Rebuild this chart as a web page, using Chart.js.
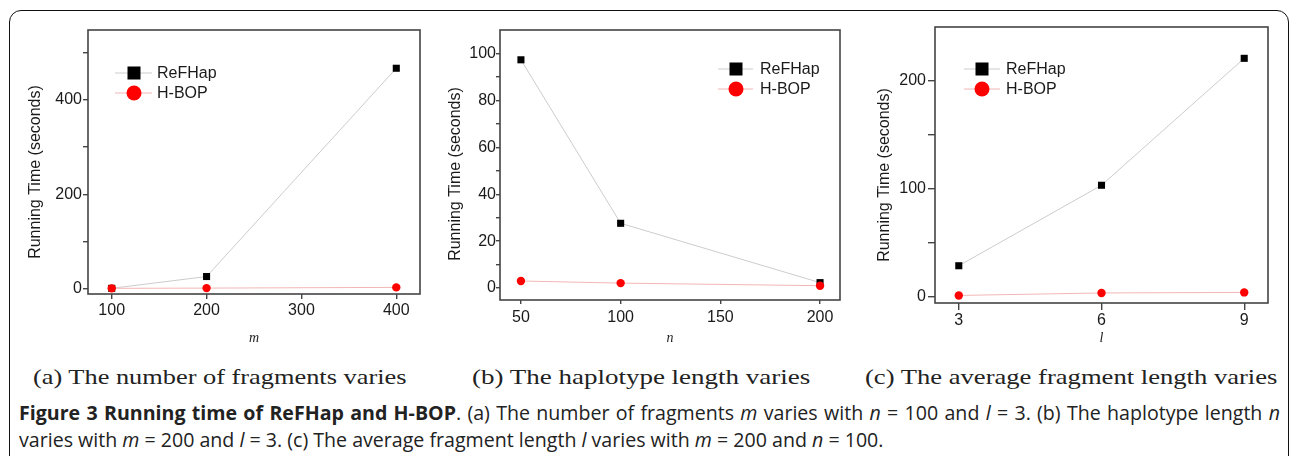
<!DOCTYPE html>
<html>
<head>
<meta charset="utf-8">
<script src="https://cdn.jsdelivr.net/npm/chart.js@4.4.1/dist/chart.umd.min.js"></script>
<style>
    body { margin: 0; width: 1290px; height: 456px; background: #fff; position: relative; overflow: hidden; }
    .frame { position: absolute; left: 9px; top: 10px; width: 1278px; height: 470px; border: 1.5px solid #111; border-radius: 12px; }
    canvas { position: absolute; }
    .sub { position: absolute; top: 365px; font-family: 'Liberation Serif', serif; font-size: 21px; line-height: 24px; white-space: nowrap; transform-origin: 0 0; color: #222; }
    .cap { position: absolute; left: 19px; font-family: 'Open Sans', sans-serif; font-size: 19.6px; line-height: 26px; color: #222; white-space: nowrap; }
    #cap1 { width: 1261px; white-space: normal; text-align: justify; text-align-last: justify; }
    .cap b { font-weight: 700; }
</style>
</head>
<body>
<div class="frame"></div>
<canvas id="chart-a"></canvas>
<canvas id="chart-b"></canvas>
<canvas id="chart-c"></canvas>
<div class="sub" data-w="374" style="left:33px">(a) The number of fragments varies</div>
<div class="sub" data-w="338" style="left:472px">(b) The haplotype length varies</div>
<div class="sub" data-w="413" style="left:865px">(c) The average fragment length varies</div>
<div class="cap" id="cap1" style="top:400px"><b>Figure 3 Running time of ReFHap and H-BOP</b>. (a) The number of fragments <i>m</i> varies with <i>n</i> = 100 and <i>l</i> = 3. (b) The haplotype length <i>n</i></div>
<div class="cap" style="top:427px">varies with <i>m</i> = 200 and <i>l</i> = 3. (c) The average fragment length <i>l</i> varies with <i>m</i> = 200 and <i>n</i> = 100.</div>
<script>
// data
const seriesNames = ['ReFHap', 'H-BOP'];
const yTitle = 'Running Time (seconds)';

const mValues = [100, 200, 400];
const refhapByM = [1, 26, 467];
const hbopByM = [1, 1.5, 3];
const xTicksA = [100, 200, 300, 400];
const yTicksA = [0, 100, 200, 300, 400, 500];
const yMajorA = [0, 200, 400];
const xRangeA = [75, 425];
const yRangeA = [-11, 548];

const nValues = [50, 100, 200];
const refhapByN = [97.3, 27.6, 2.3];
const hbopByN = [3.0, 2.1, 1.0];
const xTicksB = [50, 100, 150, 200];
const yTicksB = [0, 10, 20, 30, 40, 50, 60, 70, 80, 90, 100];
const yMajorB = [0, 20, 40, 60, 80, 100];
const xRangeB = [39.5, 210];
const yRangeB = [-5.1, 110];

const lValues = [3, 6, 9];
const refhapByL = [29, 103.5, 221];
const hbopByL = [1.5, 3.8, 4.3];
const xTicksC = [3, 6, 9];
const yTicksC = [0, 50, 100, 150, 200];
const yMajorC = [0, 100, 200];
const xRangeC = [2.5, 9.5];
const yRangeC = [-5.5, 250];


// draws the box round the plot, the y title and the legend
const decor = {
    id: 'decor',
    afterDraw(chart, args, o) {
        const ctx = chart.ctx, a = chart.chartArea;
        ctx.save();
        ctx.strokeStyle = '#444';
        ctx.lineWidth = 1.6;
        ctx.strokeRect(a.left, a.top, a.right - a.left, a.bottom - a.top);

        ctx.fillStyle = '#1a1a1a';
        ctx.font = '16px "Liberation Sans", Arial, sans-serif';
        ctx.textAlign = 'center';
        ctx.textBaseline = 'middle';
        ctx.save();
        ctx.translate(o.titleX - o.left, o.titleY - o.top);
        ctx.rotate(-Math.PI / 2);
        ctx.fillText(yTitle, 0, 0);
        ctx.restore();

        const lg = o.legend;
        ctx.textAlign = 'left';
        chart.data.datasets.forEach((ds, i) => {
            const y = lg.rows[i] - o.top;
            ctx.strokeStyle = ds.borderColor;
            ctx.lineWidth = 1;
            ctx.beginPath();
            ctx.moveTo(lg.x0 - o.left, y);
            ctx.lineTo(lg.x1 - o.left, y);
            ctx.stroke();
            ctx.fillStyle = ds.pointBackgroundColor;
            Chart.helpers.drawPoint(ctx, {
                pointStyle: ds.pointStyle, radius: ds.legendRadius, rotation: 0, borderWidth: 0
            }, lg.mx - o.left, y);
            ctx.fillStyle = '#1a1a1a';
            ctx.fillText(ds.label, lg.tx - o.left, y + 1);
        });
        ctx.restore();
    }
};


function makeChart(id, p, xs, refhap, hbop, xTicks, yTicks, yMajor, xRange, yRange, xTitle) {
    const canvas = document.getElementById(id);
    canvas.width = p.w;
    canvas.height = p.h;
    canvas.style.left = p.left + 'px';
    canvas.style.top = p.top + 'px';
    const axisLine = { drawOnChartArea: false, tickLength: p.tl, color: '#444', lineWidth: 1.4 };
    const tickFont = { size: 16, family: '"Liberation Sans", Arial, sans-serif' };
    return new Chart(canvas.getContext('2d'), {
        type: 'line',
        data: {
            datasets: [
                {
                    label: seriesNames[0], data: xs.map((x, i) => ({ x: x, y: refhap[i] })),
                    borderColor: '#cccccc', borderWidth: 1,
                    pointStyle: 'rect', pointRadius: 5, pointBorderWidth: 0,
                    pointBackgroundColor: '#000000', legendRadius: 9.2, order: 1
                },
                {
                    label: seriesNames[1], data: xs.map((x, i) => ({ x: x, y: hbop[i] })),
                    borderColor: '#f3b6b6', borderWidth: 1,
                    pointStyle: 'circle', pointRadius: 4.2, pointBorderWidth: 0,
                    pointBackgroundColor: '#ff0000', legendRadius: 7.5, order: 0
                }
            ]
        },
        options: {
            responsive: false,
            animation: false,
            events: [],
            layout: { padding: { top: p.area.t - p.top, right: p.left + p.w - p.area.r, left: 0, bottom: 0 } },
            plugins: {
                legend: { display: false },
                tooltip: { enabled: false },
                decor: p
            },
            scales: {
                x: {
                    type: 'linear', min: xRange[0], max: xRange[1], bounds: 'data',
                    border: { display: false },
                    grid: axisLine,
                    ticks: { autoSkip: false, padding: p.xPad, color: '#1a1a1a', font: tickFont, maxRotation: 0 },
                    afterBuildTicks: s => { s.ticks = xTicks.map(v => ({ value: v })); },
                    afterFit: s => { s.height = p.top + p.h - p.area.b; },
                    title: {
                        display: true, text: xTitle, color: '#222',
                        font: { family: '"Liberation Serif", serif', style: 'italic', size: 14 },
                        padding: { top: 0, bottom: 8.6 }
                    }
                },
                y: {
                    type: 'linear', min: yRange[0], max: yRange[1], bounds: 'data',
                    border: { display: false },
                    grid: axisLine,
                    ticks: {
                        autoSkip: false, padding: p.yPad, color: '#1a1a1a', font: tickFont,
                        callback: v => yMajor.includes(v) ? String(v) : ''
                    },
                    afterBuildTicks: s => { s.ticks = yTicks.map(v => ({ value: v })); },
                    afterFit: s => { s.width = p.area.l - p.left; }
                }
            }
        },
        plugins: [decor]
    });
};


const panelA = { left: 20, top: 15, w: 415, h: 340, area: { l: 88, r: 420, t: 30, b: 294 }, tl: 5, xPad: 1.5, yPad: 1,
    titleX: 36, titleY: 172, legend: { x0: 115, x1: 152, mx: 134, tx: 157, rows: [73, 93] } };
const panelB = { left: 440, top: 15, w: 410, h: 340, area: { l: 500, r: 840, t: 30, b: 300 }, tl: 4, xPad: 3.5, yPad: 0,
    titleX: 456, titleY: 174, legend: { x0: 718, x1: 753, mx: 736, tx: 760, rows: [69, 89] } };
const panelC = { left: 862, top: 12, w: 420, h: 343, area: { l: 935, r: 1268, t: 27, b: 303 }, tl: 7, xPad: 0.5, yPad: 2,
    titleX: 885, titleY: 175, legend: { x0: 964, x1: 1000, mx: 982, tx: 1006, rows: [69, 89] } };

makeChart('chart-a', panelA, mValues, refhapByM, hbopByM, xTicksA, yTicksA, yMajorA, xRangeA, yRangeA, 'm');
makeChart('chart-b', panelB, nValues, refhapByN, hbopByN, xTicksB, yTicksB, yMajorB, xRangeB, yRangeB, 'n');
makeChart('chart-c', panelC, lValues, refhapByL, hbopByL, xTicksC, yTicksC, yMajorC, xRangeC, yRangeC, 'l');

// stretch the sub captions to the widths in the figure
for (const el of document.querySelectorAll('.sub')) {
    el.style.transform = 'scaleX(' + (Number(el.dataset.w) / el.scrollWidth) + ')';
}
</script>
</body>
</html>
